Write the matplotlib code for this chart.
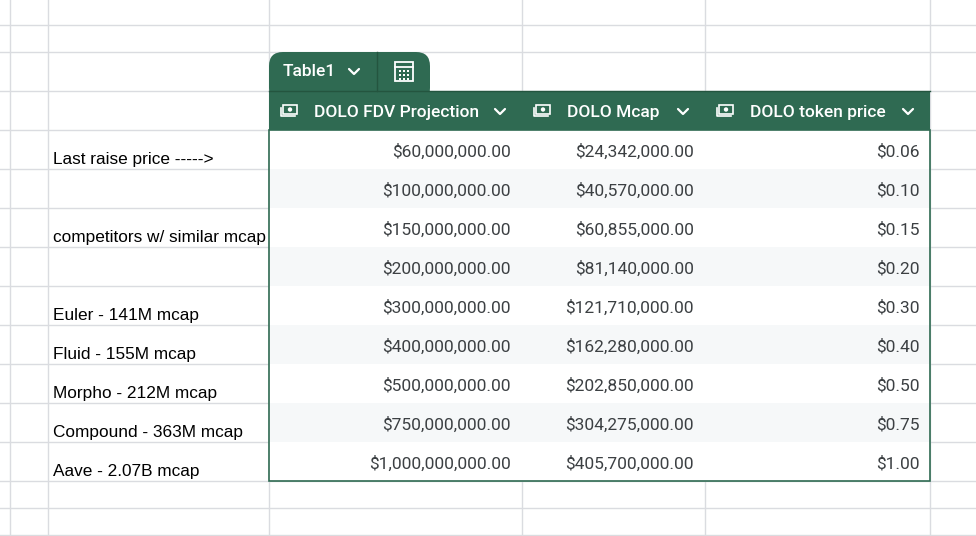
import matplotlib
matplotlib.use("Agg")
import matplotlib.pyplot as plt
from matplotlib.patches import Rectangle, FancyBboxPatch, Circle

headers = ["DOLO FDV Projection", "DOLO Mcap", "DOLO token price"]
fdv = ["$60,000,000.00", "$100,000,000.00", "$150,000,000.00", "$200,000,000.00",
       "$300,000,000.00", "$400,000,000.00", "$500,000,000.00", "$750,000,000.00",
       "$1,000,000,000.00"]
mcap = ["$24,342,000.00", "$40,570,000.00", "$60,855,000.00", "$81,140,000.00",
        "$121,710,000.00", "$162,280,000.00", "$202,850,000.00", "$304,275,000.00",
        "$405,700,000.00"]
price = ["$0.06", "$0.10", "$0.15", "$0.20", "$0.30", "$0.40", "$0.50", "$0.75", "$1.00"]
side_labels = {0: "Last raise price ----->", 2: "competitors w/ similar mcap",
               4: "Euler - 141M mcap", 5: "Fluid - 155M mcap", 6: "Morpho - 212M mcap",
               7: "Compound - 363M mcap", 8: "Aave - 2.07B mcap"}

W, H = 976, 536
fig = plt.figure(figsize=(W/100, H/100), dpi=100)
ax = fig.add_axes([0, 0, 1, 1])
ax.set_xlim(0, W); ax.set_ylim(H, 0); ax.axis("off")

grid = "#dadce0"
green = "#2f6a52"
vx = [10, 48, 269, 522, 705, 930]
hy = [25, 52, 91] + [130 + 39*i for i in range(10)] + [508, 535]
for x in vx:
    ax.plot([x, x], [0, H], color=grid, lw=1, zorder=0)
for y in hy:
    ax.plot([0, W], [y, y], color=grid, lw=1, zorder=0)

top = 130; rh = 39
ax.add_patch(Rectangle((269, top), 930-269, rh*9, facecolor="white", edgecolor="none", zorder=1))
for i in range(9):
    if i % 2 == 1:
        ax.add_patch(Rectangle((269, top+rh*i), 930-269, rh, facecolor="#f6f8f9", edgecolor="none", zorder=1))
ax.add_patch(Rectangle((269, top), 930-269, rh*9, facecolor="none", edgecolor=green, lw=1.2, zorder=3))
ax.add_patch(Rectangle((269, 91), 930-269, 39, facecolor=green, edgecolor="none", zorder=2))
ax.add_patch(FancyBboxPatch((269, 52), 430-269, 50, boxstyle="round,pad=0,rounding_size=14",
                            facecolor=green, edgecolor="none", zorder=2, mutation_aspect=1))
ax.plot([377, 377], [52, 91], color="#24553f", lw=1, zorder=3)
ax.plot([269, 930], [91, 91], color="#24553f", lw=1, zorder=3)

def chevron(cx, cy):
    ax.plot([cx-5, cx, cx+5], [cy-3, cy+2, cy-3], color="white", lw=1.6, zorder=4,
            solid_capstyle="round", solid_joinstyle="round")

def money(x, y):
    ax.add_patch(Rectangle((x, y-5), 14, 9, facecolor="none", edgecolor="white", lw=1.2, zorder=4))
    ax.add_patch(Circle((x+7, y-0.5), 2.2, facecolor="white", edgecolor="none", zorder=4))
    ax.plot([x-2, x-2, x+12], [y-2, y+6, y+6], color="white", lw=1.2, zorder=4)

ax.text(283, 72, "Table1", color="white", fontsize=12.5, fontfamily="Roboto",
        fontweight="medium", va="center", ha="left", zorder=4)
chevron(354, 72)
ax.add_patch(Rectangle((395, 62), 18, 19, facecolor="none", edgecolor="white", lw=1.3, zorder=4))
ax.plot([395, 413], [67, 67], color="white", lw=1.3, zorder=4)
for gx in [400, 404, 408]:
    for gy in [71, 75, 79]:
        ax.add_patch(Rectangle((gx-1, gy-1), 2.4, 2.4, facecolor="white", edgecolor="none", zorder=4))

hx = [283, 536, 719]
chev = [500, 683, 908]
for h, x, c in zip(headers, hx, chev):
    money(x, 110)
    ax.text(x+31, 113, h, color="white", fontsize=12.5, fontfamily="Roboto",
            fontweight="medium", va="center", ha="left", zorder=4)
    chevron(c, 112)

for i in range(9):
    yc = top + rh*i + rh/2 + 2
    for vals, right in zip([fdv, mcap, price], [511, 694, 920]):
        ax.text(right, yc, vals[i], color="#3c4043", fontsize=12.5, fontfamily="Roboto",
                va="center", ha="right", zorder=4)
for i, s in side_labels.items():
    ax.text(53, top + rh*(i+1) - 2, s, color="black", fontsize=12.4, fontfamily="Liberation Sans",
            va="bottom", ha="left", zorder=4)

fig.savefig("out.png", dpi=100)
